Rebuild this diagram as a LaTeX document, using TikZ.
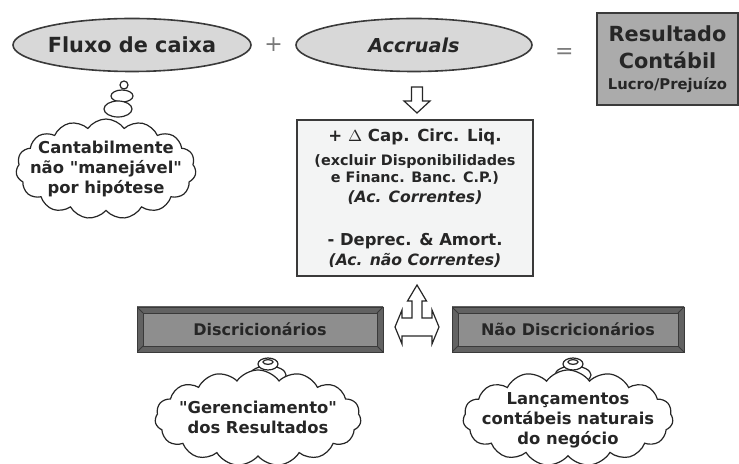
\documentclass[tikz,border=0pt]{standalone}
\usepackage{fontspec}
\setmainfont{DejaVu Sans}[Ligatures=TeXOff]
\usetikzlibrary{positioning,calc,shapes.geometric,shapes.symbols}
\definecolor{ink}{HTML}{262626}
\definecolor{edge}{HTML}{3A3A3A}
\definecolor{ovalg}{HTML}{D8D8D8}
\definecolor{resg}{HTML}{ABABAB}
\definecolor{capg}{HTML}{F3F4F4}
\definecolor{bevg}{HTML}{8E8E8E}
\definecolor{bevd}{HTML}{626262}
\definecolor{symg}{HTML}{7A7A7A}
\tikzset{
  % grey ovals of the top equation
  oval/.style   = {ellipse, draw=edge, fill=ovalg, thick, minimum width=118pt,
                   minimum height=26.5pt, inner sep=0pt, text=ink,
                   font=\fontsize{10.4}{12}\selectfont\bfseries},
  resbox/.style = {rectangle, draw=edge, fill=resg, line width=1.1pt, align=center,
                   minimum width=70.5pt, minimum height=46pt, inner sep=0pt, text=ink,
                   font=\setlength{\lineskiplimit}{-20pt}},
  capbox/.style = {rectangle, draw=edge, fill=capg, thick, align=center,
                   minimum width=118pt, minimum height=78pt, inner sep=0pt, text=ink,
                   font=\setlength{\lineskiplimit}{-20pt}},
  % bevelled buttons
  bevel/.style  = {rectangle, draw=edge, fill=bevg, minimum height=22.5pt, inner sep=0pt,
                   text=ink, font=\fontsize{8}{10}\selectfont\bfseries,
                   path picture={
                     \draw[bevd, line width=6pt] (path picture bounding box.north west)
                       rectangle (path picture bounding box.south east);
                     \draw[edge] ([shift={(3pt,-3pt)}]path picture bounding box.north west)
                       rectangle ([shift={(-3pt,3pt)}]path picture bounding box.south east);
                     \draw[edge] (path picture bounding box.north west) -- ++(3pt,-3pt)
                                 (path picture bounding box.north east) -- ++(-3pt,-3pt)
                                 (path picture bounding box.south west) -- ++(3pt,3pt)
                                 (path picture bounding box.south east) -- ++(-3pt,3pt);}},
  think/.style  = {cloud, cloud puffs=15, cloud puff arc=110, cloud ignores aspect,
                   draw=ink, fill=white, semithick, inner sep=0pt},
  thinktext/.style = {align=center, inner sep=0pt, text=ink,
                   font=\fontsize{8.2}{10}\selectfont\bfseries},
  bub/.style    = {draw=ink, fill=white, semithick},
  sym/.style    = {font=\fontsize{11}{11}\selectfont, text=symg},
  hollow/.style = {draw=ink, fill=white, semithick, line join=miter},
}

\begin{document}
\begin{tikzpicture}[x=0.5pt,y=-0.5pt]
\useasboundingbox (0,0) rectangle (739,464);
% top equation
\node[oval] (flux) at (132,45) {Fluxo de caixa};
\node[oval] (acc) at (414,45) {\fontsize{9.6}{12}\selectfont\itshape Accruals};
\node[resbox] (res) at (667.5,59)
  {\fontsize{10.4}{14}\selectfont\bfseries Resultado\\[1.5pt]
   \fontsize{10.4}{14}\selectfont\bfseries Contábil\\[-1.5pt]
   \fontsize{7.4}{14}\selectfont\bfseries Lucro/Prejuízo};
\node[sym] (plus) at ($(flux.east)!0.5!(acc.west)$) {+};
\node[sym] (eq) at ($(acc.east)!0.5!(res.west)+(0,2)$) {=};

% accruals breakdown
\node[capbox] (cap) at (415,198)
  {\fontsize{8.3}{9.5}\selectfont\bfseries + $\Delta$ Cap. Circ. Liq.\\
   \fontsize{7.2}{9.5}\selectfont\bfseries (excluir Disponibilidades\\[-3.5pt]
   \fontsize{7.2}{9.5}\selectfont\bfseries e Financ. Banc. C.P.)\\[-2pt]
   \fontsize{7.8}{9.5}\selectfont\bfseries\itshape (Ac. Correntes)\\[9.5pt]
   \fontsize{8.2}{9.5}\selectfont\bfseries - Deprec. \& Amort.\\[-2pt]
   \fontsize{7.8}{9.5}\selectfont\bfseries\itshape (Ac. não Correntes)};
\coordinate (down) at (417,100);
\draw[hollow, shift={(down)}] (-5.5,-13) -- (5.5,-13) -- (5.5,1) -- (13,1) -- (0,13)
  -- (-13,1) -- (-5.5,1) -- cycle;

% split into the two kinds
\node[bevel, minimum width=123pt] (disc) at (260,329.5) {Discricionários};
\node[bevel, minimum width=116pt] (ndisc) at (568,329.5) {Não Discricionários};
\coordinate (fork) at (417,327);
\draw[hollow, shift={(fork)}] (0,-42) -- (9.5,-26) -- (5,-26) -- (5,-9) -- (15,-9)
  -- (15,-17) -- (22,0) -- (15,17) -- (15,9) -- (-15,9) -- (-15,17) -- (-22,0)
  -- (-15,-17) -- (-15,-9) -- (-5,-9) -- (-5,-26) -- (-9.5,-26) -- cycle;

% thought bubbles
\draw[bub] (124,85) circle[radius=2pt];
\draw[bub] (122,96) ellipse[x radius=5.5pt, y radius=3pt];
\draw[bub] (118,109) ellipse[x radius=7pt, y radius=4pt];
\foreach \bx in {268,573}{
  \draw[bub] (\bx,375) ellipse[x radius=9pt, y radius=4.5pt];
  \draw[bub] (\bx,364) ellipse[x radius=5pt, y radius=3pt];
  \draw[bub] (\bx,362) ellipse[x radius=2.5pt, y radius=1.2pt];
}
\node[think, minimum width=90pt, minimum height=50pt] (c1) at (106,169) {};
\node[thinktext] (c1t) at (c1) {Cantabilmente\\não "manejável"\\por hipótese};
\node[think, minimum width=103pt, minimum height=48pt] (c2) at (258,418) {};
\node[thinktext] (c2t) at (258,417) {"Gerenciamento"\\dos Resultados};
\node[think, minimum width=105pt, minimum height=48pt] (c3) at (568,418) {};
\node[thinktext] (c3t) at (568,420) {Lançamentos\\contábeis naturais\\do negócio};
\end{tikzpicture}
\end{document}
